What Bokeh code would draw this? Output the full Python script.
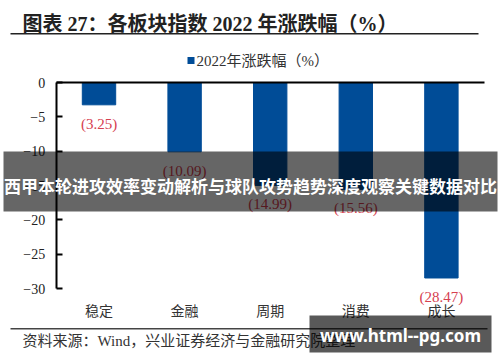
from bokeh.plotting import figure
from bokeh.models import (ColumnDataSource, Label, BoxAnnotation, Range1d,
                          FixedTicker, LinearAxis)
from bokeh.core.properties import value
from bokeh.embed import file_html
from bokeh.resources import INLINE

# ---- data ----
categories = ["稳定", "金融", "周期", "消费", "成长"]
changes_2022 = [-3.25, -10.09, -14.99, -15.56, -28.47]
y_ticks = [0, -5, -10, -15, -20, -25, -30]
title_text = "图表 27：各板块指数 2022 年涨跌幅（%）"
legend_text = "2022年涨跌幅（%）"
source_text = "资料来源：Wind，兴业证券经济与金融研究院整理"
banner_text = "西甲本轮进攻效率变动解析与球队攻势趋势深度观察关键数据对比"
watermark_text = "www.html--pg.com"

BAR = "#004C97"
RED = "#D6404F"
CJK = "Noto Sans CJK SC"
SERIF = "Liberation Serif"
MIXED = "'Liberation Serif', 'Noto Sans CJK SC'"

x_pos = list(range(len(categories)))
labels = ["(%.2f)" % abs(v) for v in changes_2022]
src = ColumnDataSource(dict(x=x_pos, val=changes_2022, lab=labels))

# ---- geometry (page pixels) ----
W, H = 500, 362
Y0_PX, YMIN_PX = 82, 288          # pixel rows of y=0 and y=-30
ymin, ymax = min(y_ticks), max(y_ticks)
k = (YMIN_PX - Y0_PX) / (ymax - ymin)      # px per unit
C0_PX, STEP_PX = 98.5, 85.6                # first bar centre, spacing

p = figure(width=W, height=H,
           x_range=Range1d(-C0_PX / STEP_PX, (W - C0_PX) / STEP_PX),
           y_range=Range1d(ymin - (H - YMIN_PX) / k, ymax + Y0_PX / k),
           output_backend="svg", toolbar_location=None,
           x_axis_location=None, y_axis_location=None)
p.min_border = 0
p.outline_line_color = None
p.grid.visible = False
p.background_fill_color = "white"
p.border_fill_color = "white"

p.vbar(x="x", top="val", bottom=0, width=0.39, color=BAR, source=src)
p.text(x="x", y="val", text="lab", source=src, y_offset=19,
       text_align="center", text_baseline="middle", text_color=RED,
       text_font=value(SERIF), text_font_size="15px")

# left value axis, ticks inside
ya = LinearAxis(ticker=FixedTicker(ticks=y_ticks), fixed_location=-0.5,
                bounds=(ymin, ymax))
ya.axis_line_color = "black"
ya.axis_line_width = 2
ya.major_tick_in = 6
ya.major_tick_out = 0
ya.major_tick_line_width = 2
ya.minor_tick_line_color = None
ya.minor_tick_in = 0
ya.minor_tick_out = 0
ya.major_label_standoff = 11
ya.major_label_text_font = SERIF
ya.major_label_text_font_size = "14px"
ya.major_label_text_color = "#222222"
p.add_layout(ya, "left")

# category labels below the plot
xa = LinearAxis(ticker=FixedTicker(ticks=x_pos), fixed_location=ymin,
                major_label_overrides={i: c for i, c in zip(x_pos, categories)})
xa.axis_line_color = None
xa.major_tick_line_color = None
xa.minor_tick_line_color = None
xa.major_tick_in = 0
xa.major_tick_out = 0
xa.minor_tick_in = 0
xa.minor_tick_out = 0
xa.major_label_standoff = 11
xa.major_label_text_font = CJK
xa.major_label_text_font_size = "14px"
xa.major_label_text_color = "#333333"
p.add_layout(xa, "below")

# zero line (top axis, line only)
xt = LinearAxis(ticker=FixedTicker(ticks=[]), fixed_location=0,
                bounds=(x_pos[0] - 0.5, x_pos[-1] + 0.5))
xt.axis_line_color = "black"
xt.axis_line_width = 2
xt.major_tick_line_color = None
xt.minor_tick_line_color = None
xt.major_label_text_alpha = 0
p.add_layout(xt, "above")

# ---- decorations in page pixels (frame == canvas) ----
def fy(py):
    return H - py

def label(text, px, py, size, color, font=CJK, style="normal", align="left"):
    p.add_layout(Label(x=px, y=fy(py), x_units="screen", y_units="screen",
                       text=text, text_font=font, text_font_size=size,
                       text_color=color, text_font_style=style,
                       text_align=align, text_baseline="middle",
                       level="overlay"))

def box(l, r, t, b, color, alpha=1.0):
    p.add_layout(BoxAnnotation(left=l, right=r, top=fy(t), bottom=fy(b),
                               left_units="screen", right_units="screen",
                               top_units="screen", bottom_units="screen",
                               fill_color=color, fill_alpha=alpha,
                               line_color=None, level="overlay"))

# title and rule
label(title_text, 22, 23, "20px", "#222222", font=MIXED, style="bold")
box(10, 478, 32.5, 34, "#222222")
# legend
box(187, 194, 56.5, 63.5, BAR)
label(legend_text, 196, 60, "15px", "#333333", font=MIXED)
# source rule and text
box(10, 487, 327.5, 329, "#444444")
label(source_text, 22, 340, "15px", "#333333", font=MIXED)
# overlay banner
box(3, 497, 151, 211, "black", 0.6)
label(banner_text, 250, 185, "17px", "white", style="bold", align="center")
# watermark
box(309, 491, 315, 352, "black", 0.65)
label(watermark_text, 400, 335, "17px", "white", font="Noto Sans", style="bold", align="center")

open("out.html", "w").write(file_html(p, INLINE))
